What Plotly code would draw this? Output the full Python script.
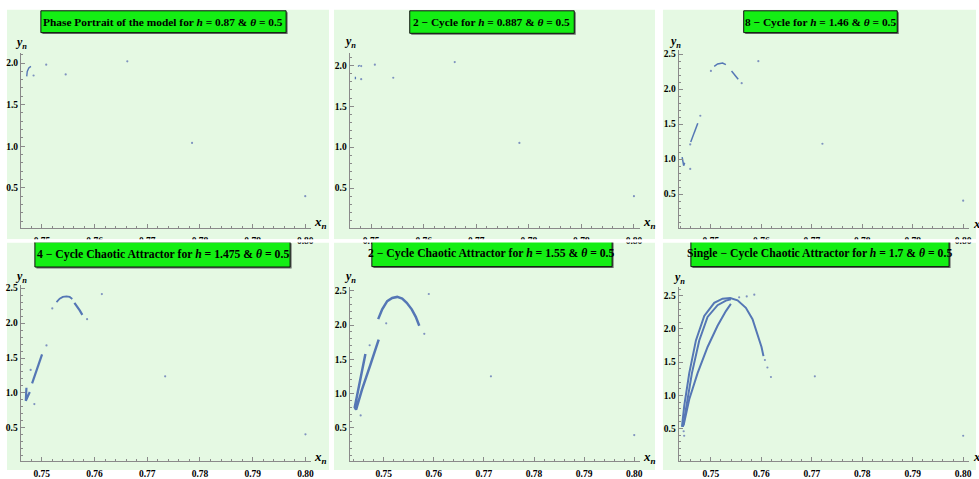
import plotly.graph_objects as go

W, H = 979, 479

# ---------------- data ----------------
titles = [
    "Phase Portrait of the model for <i>h</i> = 0.87 &amp; <i>θ</i> = 0.5",
    "2 − Cycle for <i>h</i> = 0.887 &amp; <i>θ</i> = 0.5",
    "8 − Cycle for <i>h</i> = 1.46 &amp; <i>θ</i> = 0.5",
    "4 − Cycle Chaotic Attractor for <i>h</i> = 1.475 &amp; <i>θ</i> = 0.5",
    "2 − Cycle Chaotic Attractor for <i>h</i> = 1.55 &amp; <i>θ</i> = 0.5",
    "Single − Cycle Chaotic Attractor for <i>h</i> = 1.7 &amp; <i>θ</i> = 0.5",
]
x_ticks = [0.75, 0.76, 0.77, 0.78, 0.79, 0.80]
x_tick_labels = ["0.75", "0.76", "0.77", "0.78", "0.79", "0.80"]
y_ticks_low = [0.5, 1.0, 1.5, 2.0]
y_ticks_high = [0.5, 1.0, 1.5, 2.0, 2.5]

# Panel 1: h = 0.87
p1_curve_x = [0.7479, 0.7475, 0.7472, 0.7471, 0.7471]
p1_curve_y = [1.96, 1.94, 1.90, 1.86, 1.84]
p1_pts_x = [0.80, 0.7785, 0.7662, 0.7545, 0.7508, 0.7484]
p1_pts_y = [0.40, 1.039, 2.02, 1.863, 1.98, 1.85]

# Panel 2: h = 0.887
p2_curve_x = [0.7475, 0.7478, None, 0.7470, 0.7470]
p2_curve_y = [1.985, 2.0, None, 1.86, 1.83]
p2_pts_x = [0.80, 0.7782, 0.7659, 0.7542, 0.7507, 0.7481, 0.7481]
p2_pts_y = [0.401, 1.051, 2.04, 1.848, 2.008, 1.83, 1.99]

# Panel 3: h = 1.46
p3_curve_x = [0.75066, 0.75132, 0.75231, 0.75297, None,
              0.75409, 0.75475, 0.75541, None,
              0.7460, 0.7474, None,
              0.7443, 0.7446, 0.7448]
p3_curve_y = [2.327, 2.36, 2.374, 2.35, None,
              2.258, 2.197, 2.141, None,
              1.246, 1.512, None,
              1.03, 0.906, 0.95]
p3_pts_x = [0.80, 0.7721, 0.7594, 0.7561, 0.75, 0.7479, 0.7459, 0.7459]
p3_pts_y = [0.407, 1.22, 2.40, 2.085, 2.26, 1.62, 1.21, 0.86]

# Panel 4: h = 1.475
p4_arc_x = [0.7528, 0.7534, 0.7540, 0.7547, 0.7553, 0.7558]
p4_arc_y = [2.30, 2.35, 2.374, 2.383, 2.374, 2.346]
p4_curve_x = [0.7562, 0.7567, 0.7572, 0.7577, None,
              0.74817, 0.75006, None,
              0.7471, 0.74698, 0.74773]
p4_curve_y = [2.29, 2.243, 2.182, 2.117, None,
              1.136, 1.551, None,
              1.075, 0.888, 1.014]
p4_pts_x = [0.80, 0.7734, 0.7614, 0.7586, 0.7520, 0.7509, 0.7479, 0.7486]
p4_pts_y = [0.407, 1.238, 2.416, 2.056, 2.21, 1.68, 1.33, 0.84]

# Panel 5: h = 1.55
p5_curve_x = [0.7489, 0.7497, 0.7507, 0.7517, 0.7527, 0.7537, 0.7546, 0.7556, 0.7564, 0.7571, None,
              0.74635, 0.74529, 0.74445, 0.74422, 0.74449, 0.74568, 0.74734, 0.7490]
p5_curve_y = [2.086, 2.229, 2.348, 2.395, 2.41, 2.386, 2.324, 2.229, 2.119, 1.99, None,
              1.576, 1.181, 0.92, 0.80, 0.767, 1.062, 1.419, 1.786]
p5_pts_x = [0.80, 0.7714, 0.7590, 0.7581, 0.7505, 0.7472, 0.7454]
p5_pts_y = [0.395, 1.252, 2.452, 1.871, 2.024, 1.705, 0.681]

# Panel 6: h = 1.7
p6_curve_x = [0.74426, 0.74472, 0.74571, 0.74703, 0.74868, 0.75066, 0.75231, 0.75383,
              0.75528, 0.75693, 0.75825, 0.75923, 0.76003, 0.76042, None,
              0.74446, 0.74512, 0.74624, 0.74769, 0.74934, 0.75132, 0.75297, 0.75396, None,
              0.74459, 0.74571, 0.74736, 0.74934, 0.75132, 0.75297, 0.75396]
p6_curve_y = [0.525, 0.844, 1.335, 1.827, 2.195, 2.392, 2.456, 2.466,
              2.431, 2.318, 2.146, 1.925, 1.728, 1.591, None,
              0.525, 0.844, 1.335, 1.827, 2.180, 2.357, 2.426, 2.446, None,
              0.549, 0.942, 1.335, 1.728, 2.048, 2.269, 2.377]
p6_pts_x = [0.80, 0.7706, 0.7619, 0.7612, 0.7607, 0.7586, 0.7571, 0.7556, 0.7447, 0.7446]
p6_pts_y = [0.392, 1.286, 1.276, 1.419, 1.532, 2.515, 2.49, 2.475, 0.392, 0.46]

# ---------------- layout geometry (window pixels) ----------------
def fx(px):
    return px / W

def fy(py):
    return 1 - py / H

panels = [
    dict(px=(21, 312, 53.3, 232.0), xr=[0.746, 0.8011], yr=[0.015, 2.118], yt=y_ticks_low),
    dict(px=(350.7, 641.7, 53.3, 232.3), xr=[0.7459, 0.8011], yr=[0.006, 2.148], yt=y_ticks_low),
    dict(px=(680.7, 971.7, 50.0, 232.3), xr=[0.7436, 0.8011], yr=[0.01, 2.56], yt=y_ticks_high),
    dict(px=(20.7, 311.7, 290.0, 470.0), xr=[0.746, 0.801], yr=[0.023, 2.546], yt=y_ticks_high),
    dict(px=(350.7, 641.7, 291.7, 470.0), xr=[0.7432, 0.8011], yr=[0.014, 2.56], yt=y_ticks_high),
    dict(px=(680.7, 971.7, 291.7, 470.0), xr=[0.7436, 0.8011], yr=[0.009, 2.637], yt=y_ticks_high),
]
bg_rects = [(7, 330, 9, 243.3), (335, 657, 9, 243.3), (665, 979, 9, 243.3),
            (7, 330, 246.7, 479), (335, 657, 246.7, 479), (665, 979, 246.7, 479)]
title_boxes = [(41, 287, 10, 32.3), (411, 576, 10, 33), (746, 900, 10, 32.3),
               (35, 291, 246, 271.7), (373, 614, 245, 271.3), (693, 952, 245, 271.3)]
title_sizes = [11.4, 11.4, 11.4, 11.7, 11.7, 11.7]
yn_pos = [(21, 43.3), (350.7, 42.3), (676.7, 41.7), (20.7, 281.7), (350.7, 281.7), (680.7, 282.7)]
xn_pos = [(321.7, 226.7), (651.7, 226.7), (983, 228), (321.7, 466.7), (651.7, 466.7), (983, 466.7)]

LINE = "#5577b5"
DOT = "#7f93bf"
AXC = "#8a8a8a"
SERIF = "Liberation Serif, Times New Roman, serif"

curves = [
    [(p1_curve_x, p1_curve_y, 1.4)],
    [(p2_curve_x, p2_curve_y, 1.3)],
    [(p3_curve_x, p3_curve_y, 1.5)],
    [(p4_arc_x, p4_arc_y, 1.8), (p4_curve_x, p4_curve_y, 2.2)],
    [(p5_curve_x, p5_curve_y, 2.5)],
    [(p6_curve_x, p6_curve_y, 2.0)],
]
points = [(p1_pts_x, p1_pts_y), (p2_pts_x, p2_pts_y), (p3_pts_x, p3_pts_y),
          (p4_pts_x, p4_pts_y), (p5_pts_x, p5_pts_y), (p6_pts_x, p6_pts_y)]

fig = go.Figure()
shapes = []
annotations = []
layout_axes = {}

for i, p in enumerate(panels):
    n = i + 1
    xa = "x" if n == 1 else f"x{n}"
    ya = "y" if n == 1 else f"y{n}"
    l, r, t, b = p["px"]
    for cx, cy, w in curves[i]:
        fig.add_trace(go.Scatter(x=cx, y=cy, mode="lines", xaxis=xa, yaxis=ya,
                                 line=dict(color=LINE, width=w), showlegend=False,
                                 hoverinfo="skip"))
    ptx, pty = points[i]
    fig.add_trace(go.Scatter(x=ptx, y=pty, mode="markers", xaxis=xa, yaxis=ya,
                             marker=dict(color=DOT, size=2.2, line=dict(width=0)),
                             showlegend=False, hoverinfo="skip"))
    common = dict(showline=True, linecolor=AXC, linewidth=1, showgrid=False, zeroline=False,
                  ticks="inside", ticklen=4, tickcolor=AXC, tickwidth=1,
                  tickfont=dict(family=SERIF, size=9.5, color="black", weight="bold"),
                  fixedrange=True)
    layout_axes[f"xaxis{'' if n == 1 else n}"] = dict(
        domain=[fx(l), fx(r)], range=p["xr"], anchor=ya,
        tickvals=x_ticks, ticktext=x_tick_labels, ticklabelstandoff=3,
        minor=dict(dtick=0.002, tick0=0.75, ticks="inside", ticklen=2, tickcolor=AXC),
        **common)
    layout_axes[f"yaxis{'' if n == 1 else n}"] = dict(
        domain=[fy(b), fy(t)], range=p["yr"], anchor=xa,
        tickvals=p["yt"], ticktext=[f"{v:.1f}" for v in p["yt"]],
        minor=dict(dtick=0.1, tick0=0.0, ticks="inside", ticklen=2, tickcolor=AXC),
        **common)

    bl, br, bt, bb = bg_rects[i]
    shapes.append(dict(type="rect", xref="paper", yref="paper", layer="below",
                       x0=fx(bl), x1=fx(br), y0=fy(bb), y1=fy(bt),
                       fillcolor="#e5f9e3", line=dict(width=0)))
    tl, tr, tt, tb = title_boxes[i]
    shapes.append(dict(type="rect", xref="paper", yref="paper", layer="above",
                       x0=fx(tl + 1.5), x1=fx(tr + 1.5), y0=fy(tb + 1.5), y1=fy(tt + 1.5),
                       fillcolor="#6a6a6a", line=dict(width=0)))
    shapes.append(dict(type="rect", xref="paper", yref="paper", layer="above",
                       x0=fx(tl), x1=fx(tr), y0=fy(tb), y1=fy(tt),
                       fillcolor="#14ee14", line=dict(color="#111111", width=1)))
    annotations.append(dict(text=f"<b>{titles[i]}</b>", xref="paper", yref="paper",
                            x=fx((tl + tr) / 2), y=fy((tt + tb) / 2), showarrow=False,
                            xanchor="center", yanchor="middle",
                            font=dict(family=SERIF, size=title_sizes[i], color="black")))
    yx, yy = yn_pos[i]
    annotations.append(dict(text="<b><i>y</i></b><sub><b><i>n</i></b></sub>", xref="paper", yref="paper",
                            x=fx(yx), y=fy(yy), showarrow=False, xanchor="center", yanchor="middle",
                            font=dict(family=SERIF, size=12, color="black")))
    xx, xy = xn_pos[i]
    annotations.append(dict(text="<b><i>x</i></b><sub><b><i>n</i></b></sub>", xref="paper", yref="paper",
                            x=fx(xx), y=fy(xy), showarrow=False, xanchor="center", yanchor="middle",
                            font=dict(family=SERIF, size=13, color="black")))

# white gap between rows clips the upper row's tick labels
shapes.append(dict(type="rect", xref="paper", yref="paper", layer="above",
                   x0=0, x1=1, y0=fy(246.7), y1=fy(243.3), fillcolor="white", line=dict(width=0)))

fig.update_layout(width=W, height=H, autosize=False,
                  margin=dict(l=0, r=0, t=0, b=0, pad=0),
                  paper_bgcolor="white", plot_bgcolor="rgba(0,0,0,0)",
                  shapes=shapes, annotations=annotations, **layout_axes)

# Remove the browser's default page margin and clip anything drawn past the
# figure's edge (cut-off tick labels), so the page is exactly 979x479.
page_fix = (
    "document.documentElement.style.margin='0';document.body.style.margin='0';"
    "document.documentElement.style.overflow='hidden';document.body.style.overflow='hidden';"
    "var gd=document.getElementById('{plot_id}');"
    "gd.style.overflow='hidden';gd.style.width='979px';gd.style.height='479px';"
    "if(gd.parentNode){gd.parentNode.style.overflow='hidden';gd.parentNode.style.height='479px';}"
    "gd.querySelectorAll('.svg-container, .main-svg').forEach(function(e){e.style.overflow='hidden';});"
)
fig.write_html("out.html", post_script=page_fix, config={"displayModeBar": False, "staticPlot": True})
